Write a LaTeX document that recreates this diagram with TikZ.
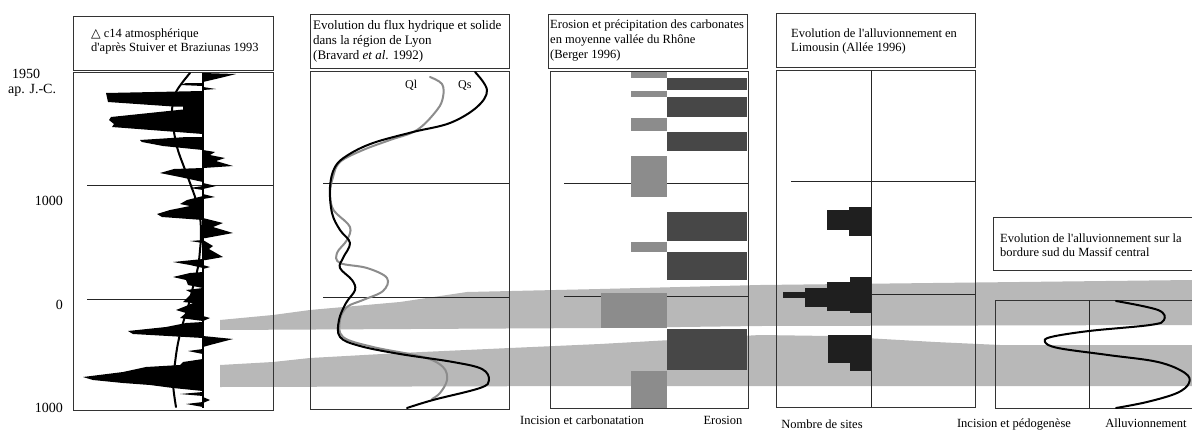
\documentclass[tikz,border=0pt]{standalone}
\usepackage{fontspec}
\setmainfont{Liberation Serif}[Ligatures=TeXOff]
\newfontfamily\symfont{DejaVu Sans}
\begin{document}
\begin{tikzpicture}[x=1pt,y=-1pt,
  frame/.style={draw=black!80, line width=0.8pt},
  gridline/.style={draw=black!85, line width=0.7pt},
  band/.style={fill=black!28},
  lightblk/.style={fill=black!45},
  darkblk/.style={fill=black!72},
  sitebar/.style={fill=black!88},
  ttl/.style={anchor=base west, inner sep=0pt, font=\fontsize{12.5}{15}\selectfont},
  ttlb/.style={anchor=base west, inner sep=0pt, font=\fontsize{13}{15}\selectfont},
  lbl/.style={anchor=base, inner sep=0pt, font=\fontsize{12.5}{15}\selectfont},
  axl/.style={inner sep=0pt, font=\fontsize{14}{16}\selectfont},
  curveblack/.style={draw=black, line width=2pt, line cap=round, line join=round},
  curvegray/.style={draw=black!45, line width=2pt, line cap=round, line join=round},
  spike/.style={fill=black}]
\useasboundingbox (0,0) rectangle (1192,434);
\fill[white] (0,0) rectangle (1192,434);
\clip (0,0) rectangle (1192,434);

% ---------------- gray bands ----------------
\fill[band] (220,320) -- (273,315) -- (310,310) -- (400,302) -- (467,292) -- (600,289) -- (760,285) -- (1192,280)
  -- (1192,325) -- (760,326) -- (600,328) -- (220,330) -- cycle;
\fill[band] (220,365) -- (273,362) -- (310,358) -- (400,353) -- (510,348) -- (600,344) -- (760,335) -- (830,336) -- (935,342) -- (1000,345) -- (1192,345)
  -- (1192,386) -- (600,386) -- (220,387) -- cycle;

% ---------------- axis labels ----------------
\node[axl, anchor=base west] (y1950) at (12,78) {1950};
\node[axl, anchor=base west] (yap) at (8,93) {ap. J.-C.};
\node[axl, anchor=base east] (y1000a) at (63,205) {1000};
\node[axl, anchor=base east] (y0) at (63,309) {0};
\node[axl, anchor=base east] (y1000b) at (63,412) {1000};

% ---------------- panel 1 ----------------
\draw[frame] (73,16) rectangle (273,70);
\node[ttl] (t1a) at (91,37) {{\symfont △} c14 atmosphérique};
\node[ttl] (t1b) at (91,51) {d\textquotesingle après Stuiver et Braziunas 1993};
\draw[frame] (73,72) rectangle (273,410);
\draw[gridline] (87,185) -- (273,185);
\draw[gridline] (87,299) -- (203,299);
% left spikes
\fill[spike] (203,83) -- (186,83) -- (180,85) -- (203,86) -- cycle;
\fill[spike] (203,91) -- (106,93) -- (108,102) -- (173,106.5) -- (183,106.5) -- (183,109.5) -- (111,117) -- (109,120) -- (114,124) -- (112,127) -- (190,133) -- (203,134) -- cycle;
\fill[spike] (203,137) -- (187,137) -- (140,140) -- (142,142) -- (163,146) -- (203,150) -- cycle;
\fill[spike] (203,168) -- (174,169) -- (160,173) -- (180,177) -- (203,182) -- cycle;
\fill[spike] (203,186) -- (190,188) -- (203,190) -- cycle;
\fill[spike] (203,196) -- (187,200) -- (180,204) -- (190,206) -- (170,210) -- (157,214) -- (162,217) -- (203,220) -- cycle;
\fill[spike] (203,240) -- (190,241) -- (203,243) -- cycle;
\fill[spike] (203,259) -- (173,262) -- (190,265) -- (203,268) -- cycle;
\fill[spike] (203,272) -- (190,273) -- (173,277) -- (186,280) -- (188,285) -- (203,288) -- cycle;
\fill[spike] (203,288) -- (186,290) -- (192,293) -- (187,298) -- (183,302) -- (193,303) -- (186,306) -- (176,310) -- (186,313) -- (180,318) -- (203,321) -- cycle;
\fill[spike] (203,322) -- (186,323) -- (166,327) -- (128,331) -- (133,334) -- (203,338) -- cycle;
\fill[spike] (203,349) -- (188,351) -- (203,354) -- cycle;
\fill[spike] (203,359) -- (183,362) -- (180,365) -- (146,367) -- (123,372) -- (83,377) -- (93,380) -- (123,383) -- (150,385) -- (173,388) -- (203,391) -- cycle;
\fill[spike] (203,392) -- (180,394) -- (203,396) -- cycle;
\fill[spike] (203,402) -- (186,404) -- (203,407) -- cycle;
% right spikes
\fill[spike] (203,73) -- (236,74) -- (220,78) -- (203,82) -- cycle;
\fill[spike] (203,87) -- (216,89) -- (203,90) -- cycle;
\fill[spike] (203,150) -- (215,152) -- (210,155) -- (225,158) -- (216,161) -- (233,166) -- (203,168) -- cycle;
\fill[spike] (203,183) -- (216,186) -- (203,189) -- cycle;
\fill[spike] (203,194) -- (215,197) -- (203,199) -- cycle;
\fill[spike] (203,218) -- (223,223) -- (213,227) -- (233,233) -- (206,238) -- (203,238) -- cycle;
\fill[spike] (203,240) -- (213,246) -- (209,249) -- (223,257) -- (206,260) -- (203,260) -- cycle;
\fill[spike] (203,265) -- (210,267) -- (203,269) -- cycle;
\fill[spike] (203,316) -- (210,318) -- (203,321) -- cycle;
\fill[spike] (203,336) -- (233,339) -- (210,345) -- (203,347) -- cycle;
\fill[spike] (203,397) -- (210,400) -- (203,403) -- cycle;
\draw[black, line width=2.2pt] (203,73) -- (203,408);
\draw[curveblack] plot[smooth, tension=0.6] coordinates {(190,73) (176,92) (172,110) (173,125) (177,147) (184,167) (190,183) (196,200) (200,217) (201,235) (200,250) (198,267) (193,287) (188,307) (183,323) (178,343) (175,363) (173,383) (176,407)};

% ---------------- panel 2 ----------------
\draw[frame] (310,14) rectangle (509,68);
\node[ttlb] (t2a) at (313,29) {Evolution du flux hydrique et solide};
\node[ttlb] (t2b) at (313,44) {dans la région de Lyon};
\node[ttlb] (t2c) at (313,59) {(Bravard \textit{et al}. 1992)};
\draw[frame] (310,71) rectangle (509,409);
\draw[gridline] (323,183) -- (509,183);
\draw[gridline] (323,297) -- (509,297);
\draw[curvegray] plot[smooth, tension=0.6] coordinates {(430,77) (442,84) (443,97) (437,110) (417,130) (390,140) (363,150) (340,162) (333,177) (330,193) (332,207) (337,214) (350,227) (347,240) (337,253) (340,263) (367,268) (387,278) (383,291) (363,300) (347,307) (340,320) (343,337) (373,347) (423,357) (443,367) (447,380) (440,393) (432,399)};
\draw[curveblack] plot[smooth, tension=0.6] coordinates {(475,72) (487,90) (477,107) (450,123) (413,132) (373,143) (348,155) (335,167) (330,187) (332,213) (340,230) (350,243) (343,258) (340,268) (352,280) (355,290) (346,303) (339,320) (340,337) (360,346) (400,354) (453,362) (482,369) (489,380) (480,388) (433,400) (407,408)};
\node[anchor=base west, inner sep=0pt, font=\fontsize{12}{14}\selectfont] (ql) at (405,88) {Ql};
\node[anchor=base west, inner sep=0pt, font=\fontsize{12}{14}\selectfont] (qs) at (458,88) {Qs};

% ---------------- panel 3 ----------------
\draw[frame] (548,14) rectangle (747,68);
\node[ttl] (t3a) at (550,28) {Erosion et précipitation des carbonates};
\node[ttl] (t3b) at (550,43) {en moyenne vallée du Rhône};
\node[ttl] (t3c) at (550,58) {(Berger 1996)};
\draw[frame] (550,71) rectangle (748,408);
\draw[gridline] (564,183) -- (748,183);
\draw[gridline] (564,296) -- (748,296);
\fill[lightblk] (631,72) rectangle (667,78);
\fill[lightblk] (631,91) rectangle (667,97);
\fill[lightblk] (631,118) rectangle (667,131);
\fill[lightblk] (631,156) rectangle (667,197);
\fill[lightblk] (631,242) rectangle (667,252);
\fill[lightblk] (601,293) rectangle (667,328);
\fill[lightblk] (631,371) rectangle (667,408);
\fill[darkblk] (667,78) rectangle (747,90);
\fill[darkblk] (667,97) rectangle (747,117);
\fill[darkblk] (667,132) rectangle (747,151);
\fill[darkblk] (667,212) rectangle (747,241);
\fill[darkblk] (667,252) rectangle (747,280);
\fill[darkblk] (667,329) rectangle (747,370);
\node[lbl] (l3a) at (582,424) {Incision et carbonatation};
\node[lbl] (l3b) at (723,424) {Erosion};

% ---------------- panel 4 ----------------
\draw[frame] (776,13) rectangle (975,67);
\node[ttl] (t4a) at (791,37) {Evolution de l\textquotesingle alluvionnement en};
\node[ttl] (t4b) at (791,51) {Limousin (Allée 1996)};
\draw[frame] (776,70) rectangle (975,407);
\draw[gridline] (871,70) -- (871,407);
\draw[gridline] (791,181) -- (975,181);
\draw[gridline] (791,294) -- (975,294);
\fill[sitebar] (827,210) rectangle (871,230);
\fill[sitebar] (849,207) rectangle (871,236);
\fill[sitebar] (783,292) rectangle (871,298);
\fill[sitebar] (805,288) rectangle (871,307);
\fill[sitebar] (827,282) rectangle (871,311);
\fill[sitebar] (850,277) rectangle (871,313);
\fill[sitebar] (828,335) rectangle (871,363);
\fill[sitebar] (850,335) rectangle (871,371);
\node[lbl] (l4) at (822,428) {Nombre de sites};

% ---------------- panel 5 ----------------
\draw[frame] (993,217) rectangle (1200,270);
\node[ttl] (t5a) at (1000,242) {Evolution de l\textquotesingle alluvionnement sur la};
\node[ttl] (t5b) at (1000,256) {bordure sud du Massif central};
\draw[frame] (995,300) rectangle (1200,408);
\draw[gridline] (1089,300) -- (1089,408);
\draw[curveblack] plot[smooth, tension=0.6] coordinates {(1116,301) (1158,310) (1164,320) (1150,325) (1089,331) (1051,337) (1045,342) (1058,348) (1108,355) (1158,362) (1185,373) (1189,383) (1177,393) (1147,402) (1116,408)};
\node[lbl] (l5a) at (1014,427) {Incision et pédogenèse};
\node[lbl] (l5b) at (1146,427) {Alluvionnement};
\end{tikzpicture}
\end{document}
